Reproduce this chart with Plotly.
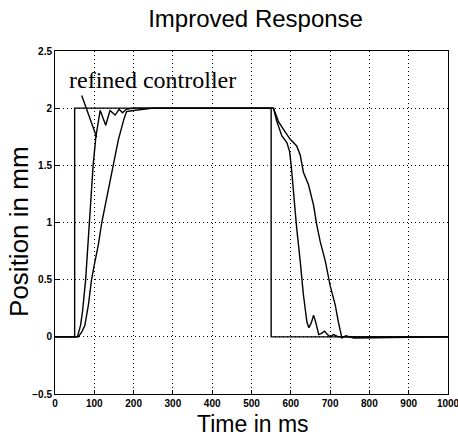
import plotly.graph_objects as go

# reference step (commanded position)
ref_t = [0, 50, 50, 550, 550, 1000]
ref_y = [0, 0, 2, 2, 0, 0]

# refined controller response (fast, with ringing)
fast_t = [0, 57, 65, 70, 78, 87, 97, 104, 115, 129, 140, 153, 163, 172, 181, 200, 400,
          556, 564, 577, 590, 597, 601, 607, 615, 624, 632, 641, 646, 652, 658, 664,
          671, 678, 686, 693, 700, 709, 721, 740, 1000]
fast_y = [0, 0, 0.1, 0.22, 0.5, 1.0, 1.5, 1.75, 1.98, 1.85, 1.98, 1.94, 1.99, 1.96, 1.99, 2.0, 2.0,
          2.0, 1.89, 1.76, 1.70, 1.62, 1.50, 1.24, 0.95, 0.66, 0.37, 0.13, 0.08, 0.12, 0.19, 0.12,
          0.02, 0.03, 0.05, 0.02, 0.0, 0.02, 0.0, 0.0, 0.0]

# original controller response (slower)
slow_t = [0, 59, 68, 76, 85, 93, 100, 110, 119, 132, 148, 161, 175, 182, 200, 250,
          556, 569, 586, 598, 615, 624, 632, 645, 658, 666, 675, 688, 700, 713, 721,
          730, 740, 750, 760, 1000]
slow_y = [0, 0, 0.04, 0.1, 0.28, 0.5, 0.63, 0.8, 1.0, 1.22, 1.5, 1.72, 1.9, 1.97, 1.98, 2.0,
          2.0, 1.88, 1.79, 1.73, 1.67, 1.59, 1.44, 1.33, 1.15, 0.98, 0.83, 0.66, 0.45, 0.28, 0.13,
          -0.01, 0.01, 0.0, -0.01, 0.0]

# pointer from label to the refined curve
pointer_t = [68, 106]
pointer_y = [2.11, 1.746]

x_ticks = [0, 100, 200, 300, 400, 500, 600, 700, 800, 900, 1000]
y_ticks = [-0.5, 0, 0.5, 1, 1.5, 2, 2.5]

line_style = dict(color="black", width=1.4)

fig = go.Figure()
for t, y in [(ref_t, ref_y), (fast_t, fast_y), (slow_t, slow_y), (pointer_t, pointer_y)]:
    fig.add_trace(go.Scatter(x=t, y=y, mode="lines", line=line_style,
                             hoverinfo="skip", showlegend=False))

fig.add_annotation(x=248, y=2.25, xref="x", yref="y", text="refined controller",
                   showarrow=False, font=dict(family="Liberation Serif", size=24, color="black"))

# axis titles as paper annotations so they sit where the original has them
fig.add_annotation(x=-0.0903, y=0.474, xref="paper", yref="paper", text="Position in mm",
                   textangle=-90, showarrow=False, xanchor="center", yanchor="middle",
                   font=dict(family="Liberation Sans", size=26, color="black"))
fig.add_annotation(x=0.504, y=-0.088, xref="paper", yref="paper", text="Time in ms",
                   showarrow=False, xanchor="center", yanchor="middle",
                   font=dict(family="Liberation Sans", size=23, color="black"))

axis_common = dict(
    showline=True, linecolor="black", linewidth=1, mirror=True,
    showgrid=True, gridcolor="black", gridwidth=1, griddash="1px,3px",
    ticks="inside", ticklen=4, tickcolor="black",
    tickfont=dict(family="Liberation Sans", size=10, color="black", weight="bold"),
    zeroline=False, automargin=False, ticklabeloverflow="allow",
)

fig.update_layout(
    width=458, height=438,
    margin=dict(l=55, r=10, t=51, b=44),
    paper_bgcolor="white", plot_bgcolor="white",
    title=dict(text="Improved Response", x=0.558, xanchor="center", y=0.957, yanchor="middle",
               font=dict(family="Liberation Sans", size=24, color="black")),
    xaxis=dict(range=[0, 1000], tickvals=x_ticks, **axis_common),
    yaxis=dict(range=[-0.5, 2.5], tickvals=y_ticks, **axis_common),
)

# drop the default page margin so the figure fills the window
fig.write_html("out.html", config={"displayModeBar": False},
               post_script="document.body.style.margin = '0';")
